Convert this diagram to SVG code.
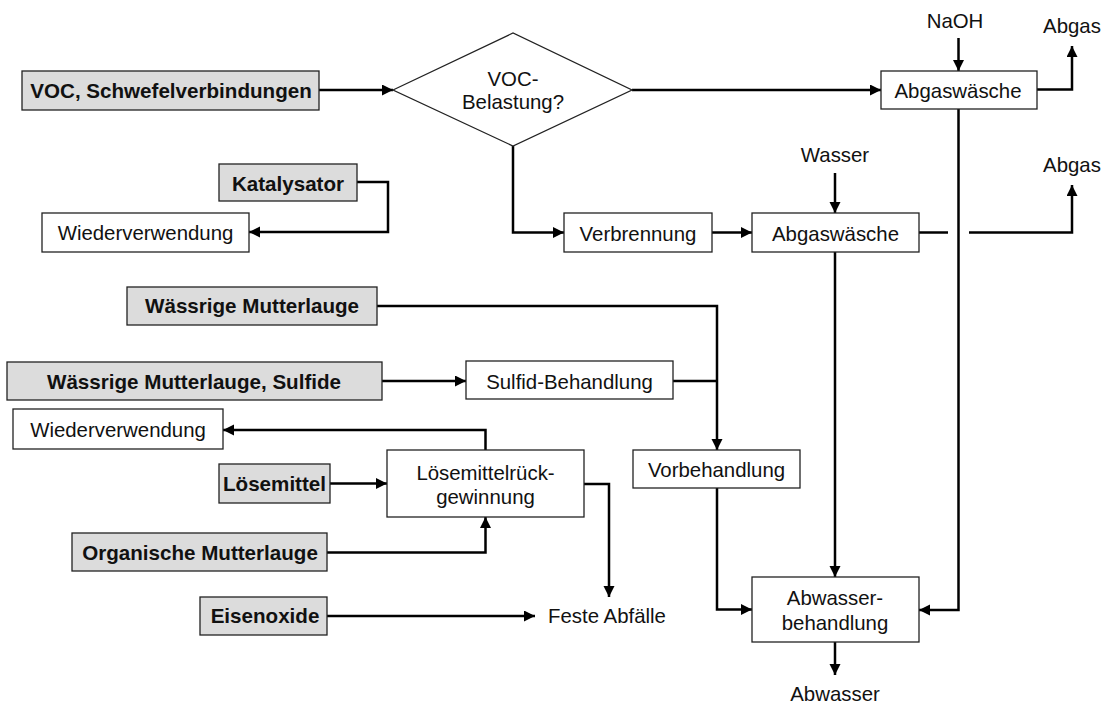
<svg xmlns="http://www.w3.org/2000/svg" width="1103" height="705" viewBox="0 0 1103 705">
<style>
.b{fill:#fff;stroke:#222;stroke-width:1.3}
.g{fill:#dcdcdc;stroke:#222;stroke-width:1.3}
.t{font-family:"Liberation Sans",Arial,sans-serif;font-size:20.4px;fill:#111;text-anchor:middle}
.tb{font-family:"Liberation Sans",Arial,sans-serif;font-size:20.6px;font-weight:bold;fill:#111;text-anchor:middle}
.c{fill:none;stroke:#000;stroke-width:2.5;stroke-linejoin:miter}
.a{marker-end:url(#ah)}
</style>
<defs>
<marker id="ah" markerUnits="userSpaceOnUse" markerWidth="12" markerHeight="12" refX="11" refY="5.5" orient="auto">
<path d="M0,0 L11,5.5 L0,11 z" fill="#000"/>
</marker>
</defs>
<rect width="1103" height="705" fill="#fff"/>
<g id="connectors">
<path class="c a" d="M319,90 H393"/>
<path class="c a" d="M632,90 H881"/>
<path class="c a" d="M513,146 V232.5 H564"/>
<path class="c a" d="M357,182 H388 V232 H249"/>
<path class="c a" d="M712,232.5 H752"/>
<path class="c a" d="M958.5,38 V71"/>
<path class="c a" d="M1037,89.5 H1072 V46"/>
<path class="c a" d="M835,173 V213"/>
<path class="c" d="M919,232.5 H948"/>
<path class="c a" d="M969,232.5 H1072 V185"/>
<path class="c a" d="M958.5,109 V610 H919"/>
<path class="c a" d="M835,252 V577"/>
<path class="c a" d="M377,306 H717 V450"/>
<path class="c a" d="M382,381 H466"/>
<path class="c" d="M673,381 H717"/>
<path class="c a" d="M717,488 V609.5 H752"/>
<path class="c a" d="M835,642 V675"/>
<path class="c a" d="M485.5,450 V430 H223"/>
<path class="c a" d="M330,483.5 H387"/>
<path class="c a" d="M327,552.5 H485.5 V517"/>
<path class="c a" d="M584,484 H609 V597"/>
<path class="c a" d="M327,616 H535"/>
</g>
<g id="voc"><rect class="g" x="22" y="71" width="297" height="39"/><text class="tb" x="171" y="98">VOC, Schwefelverbindungen</text></g>
<g id="decision"><polygon class="b" points="393,90 513,33 632,90 513,146"/><text class="t" x="513" y="86">VOC-</text><text class="t" x="513" y="109">Belastung?</text></g>
<g id="katalysator"><rect class="g" x="219" y="164" width="138" height="37"/><text class="tb" x="288" y="190.5">Katalysator</text></g>
<g id="wiederverwendung1"><rect class="b" x="42" y="213" width="207" height="39"/><text class="t" x="145.5" y="240">Wiederverwendung</text></g>
<g id="verbrennung"><rect class="b" x="564" y="213" width="148" height="39"/><text class="t" x="638" y="240.5">Verbrennung</text></g>
<g id="abgaswaesche1"><rect class="b" x="881" y="71" width="156" height="38"/><text class="t" x="958" y="97.5">Abgaswäsche</text></g>
<g id="abgaswaesche2"><rect class="b" x="752" y="213" width="167" height="39"/><text class="t" x="835.5" y="240.5">Abgaswäsche</text></g>
<g id="naoh"><text class="t" x="955" y="28">NaOH</text></g>
<g id="wasser"><text class="t" x="835" y="162">Wasser</text></g>
<g id="abgas1"><text class="t" x="1072" y="33">Abgas</text></g>
<g id="abgas2"><text class="t" x="1072" y="171.5">Abgas</text></g>
<g id="waessrige"><rect class="g" x="127" y="287" width="250" height="38"/><text class="tb" x="252" y="313">Wässrige Mutterlauge</text></g>
<g id="waessrige-sulfide"><rect class="g" x="7" y="362" width="375" height="38"/><text class="tb" x="194" y="389">Wässrige Mutterlauge, Sulfide</text></g>
<g id="sulfid"><rect class="b" x="466" y="361" width="207" height="38"/><text class="t" x="569.5" y="388.5">Sulfid-Behandlung</text></g>
<g id="wiederverwendung2"><rect class="b" x="13" y="409" width="210" height="40"/><text class="t" x="118" y="436.5">Wiederverwendung</text></g>
<g id="loesemittel"><rect class="g" x="219" y="464" width="111" height="39"/><text class="tb" x="274.5" y="491">Lösemittel</text></g>
<g id="rueckgewinnung"><rect class="b" x="387" y="450" width="197" height="67"/><text class="t" x="485.5" y="480">Lösemittelrück-</text><text class="t" x="485.5" y="503.5">gewinnung</text></g>
<g id="organische"><rect class="g" x="72" y="533" width="255" height="38"/><text class="tb" x="200" y="560">Organische Mutterlauge</text></g>
<g id="eisenoxide"><rect class="g" x="200" y="597" width="127" height="38"/><text class="tb" x="265" y="623">Eisenoxide</text></g>
<g id="feste"><text class="t" x="607" y="623">Feste Abfälle</text></g>
<g id="vorbehandlung"><rect class="b" x="633" y="450" width="167" height="38"/><text class="t" x="716.5" y="477">Vorbehandlung</text></g>
<g id="abwasserbehandlung"><rect class="b" x="752" y="577" width="167" height="65"/><text class="t" x="835" y="605">Abwasser-</text><text class="t" x="835" y="630">behandlung</text></g>
<g id="abwasser"><text class="t" x="835" y="701">Abwasser</text></g>
</svg>
